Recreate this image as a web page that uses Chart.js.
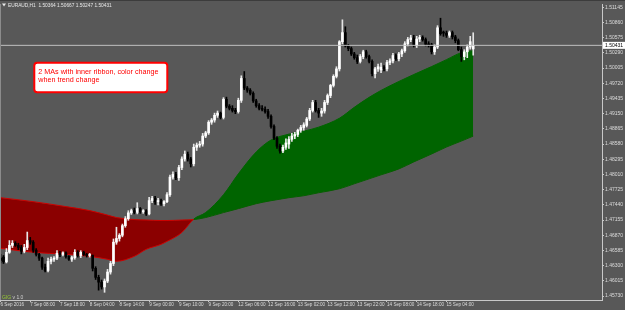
<!DOCTYPE html>
<html>
<head>
<meta charset="utf-8">
<script src="https://cdn.jsdelivr.net/npm/chart.js@4.4.1/dist/chart.umd.min.js"></script>
<style>
  html, body { margin: 0; padding: 0; background: #585858; }
  #wrap { width: 625px; height: 310px; }
</style>
</head>
<body>
<div id="wrap"><canvas id="chart" width="625" height="310"></canvas></div>
<script>
// ── Data ─────────────────────────────────────────────────────────
const symbol = 'EURAUD,H1';
const noteLines = ['2 MAs with inner ribbon, color change', 'when trend change'];

const xTickIdx = [0, 10, 20, 30, 40, 50, 60, 70, 80, 90, 100, 110, 120, 130, 140, 150];
const xTickLabels = ['6 Sep 2016', '7 Sep 08:00', '7 Sep 18:00', '8 Sep 04:00', '8 Sep 14:00', '9 Sep 00:00',
  '9 Sep 10:00', '9 Sep 20:00', '12 Sep 06:00', '12 Sep 16:00', '13 Sep 02:00', '13 Sep 12:00',
  '13 Sep 22:00', '14 Sep 08:00', '14 Sep 18:00', '15 Sep 04:00'];
const yTicks = [1.45730, 1.46015, 1.46300, 1.46585, 1.46870, 1.47155, 1.47440, 1.47725, 1.48010, 1.48295,
  1.48580, 1.48865, 1.49150, 1.49435, 1.49720, 1.50005, 1.50290, 1.50575, 1.50860, 1.51145];

const open = [
  1.4644, 1.4646, 1.4637, 1.4655, 1.4668, 1.4672, 1.4668, 1.4664, 1.4657, 1.4664,
  1.4677, 1.4674, 1.4659, 1.4651, 1.4644, 1.4627, 1.4621, 1.4638, 1.4642, 1.4644,
  1.4653, 1.4651, 1.4654, 1.4647, 1.4642, 1.4645, 1.4655, 1.4649, 1.4655, 1.4651,
  1.4649, 1.4649, 1.4625, 1.4608, 1.4599, 1.4590, 1.4601, 1.4618, 1.4634, 1.4674,
  1.4681, 1.4687, 1.4705, 1.4718, 1.4729, 1.4733, 1.4730, 1.4737, 1.4731, 1.4733,
  1.4727, 1.4752, 1.4756, 1.4750, 1.4752, 1.4746, 1.4750, 1.4763, 1.4796, 1.4801,
  1.4795, 1.4814, 1.4830, 1.4839, 1.4830, 1.4821, 1.4852, 1.4856, 1.4858, 1.4873,
  1.4879, 1.4899, 1.4903, 1.4912, 1.4916, 1.4908, 1.4942, 1.4929, 1.4925, 1.4921,
  1.4919, 1.4940, 1.4981, 1.4963, 1.4959, 1.4953, 1.4939, 1.4930, 1.4925, 1.4923,
  1.4919, 1.4910, 1.4891, 1.4869, 1.4854, 1.4845, 1.4852, 1.4858, 1.4867, 1.4873,
  1.4876, 1.4884, 1.4889, 1.4893, 1.4905, 1.4921, 1.4936, 1.4921, 1.4916, 1.4920,
  1.4936, 1.4949, 1.4968, 1.4985, 1.4999, 1.5050, 1.5067, 1.5042, 1.5037, 1.5027,
  1.5020, 1.5013, 1.5022, 1.5031, 1.5022, 1.5013, 1.4990, 1.4999, 1.4997, 1.5002,
  1.4999, 1.5011, 1.5014, 1.5024, 1.5018, 1.5027, 1.5033, 1.5046, 1.5054, 1.5057,
  1.5043, 1.5055, 1.5058, 1.5054, 1.5045, 1.5044, 1.5031, 1.5040, 1.5076, 1.5068,
  1.5066, 1.5062, 1.5067, 1.5059, 1.5052, 1.5035, 1.5022, 1.5031, 1.5040, 1.50364
];
const high = [
  1.4651, 1.4649, 1.4662, 1.4677, 1.4677, 1.4675, 1.4672, 1.4668, 1.4670, 1.4693,
  1.4683, 1.4677, 1.4662, 1.4653, 1.4646, 1.4633, 1.4644, 1.4646, 1.4647, 1.4658,
  1.4657, 1.4656, 1.4656, 1.4649, 1.4648, 1.4660, 1.4658, 1.4658, 1.4657, 1.4653,
  1.4653, 1.4650, 1.4628, 1.4612, 1.4603, 1.4605, 1.4623, 1.4638, 1.4680, 1.4702,
  1.4690, 1.4708, 1.4722, 1.4733, 1.4736, 1.4738, 1.4748, 1.4739, 1.4735, 1.4735,
  1.4758, 1.4760, 1.4760, 1.4756, 1.4755, 1.4752, 1.4767, 1.4800, 1.4806, 1.4805,
  1.4818, 1.4834, 1.4845, 1.4843, 1.4833, 1.4858, 1.4860, 1.4863, 1.4878, 1.4882,
  1.4902, 1.4906, 1.4916, 1.4920, 1.4918, 1.4945, 1.4946, 1.4932, 1.4930, 1.4925,
  1.4944, 1.4986, 1.4994, 1.4966, 1.4962, 1.4956, 1.4942, 1.4934, 1.4930, 1.4928,
  1.4923, 1.4913, 1.4894, 1.4872, 1.4858, 1.4856, 1.4868, 1.4872, 1.4878, 1.4880,
  1.4886, 1.4893, 1.4898, 1.4908, 1.4925, 1.4940, 1.4940, 1.4925, 1.4925, 1.4940,
  1.4952, 1.4970, 1.4988, 1.5003, 1.5052, 1.5091, 1.5078, 1.5045, 1.5040, 1.5030,
  1.5025, 1.5026, 1.5034, 1.5034, 1.5025, 1.5016, 1.5002, 1.5008, 1.5010, 1.5005,
  1.5015, 1.5018, 1.5028, 1.5027, 1.5030, 1.5036, 1.5050, 1.5058, 1.5062, 1.5062,
  1.5060, 1.5062, 1.5061, 1.5057, 1.5050, 1.5047, 1.5044, 1.5080, 1.5094, 1.5070,
  1.5070, 1.5070, 1.5070, 1.5062, 1.5055, 1.5040, 1.5035, 1.5044, 1.5060, 1.50667
];
const low = [
  1.4635, 1.4634, 1.4635, 1.4653, 1.4664, 1.4666, 1.4660, 1.4652, 1.4654, 1.4660,
  1.4670, 1.4655, 1.4648, 1.4640, 1.4623, 1.4618, 1.4618, 1.4633, 1.4638, 1.4641,
  1.4647, 1.4648, 1.4644, 1.4640, 1.4638, 1.4642, 1.4646, 1.4645, 1.4649, 1.4646,
  1.4646, 1.4620, 1.4604, 1.4584, 1.4586, 1.4580, 1.4598, 1.4614, 1.4630, 1.4670,
  1.4676, 1.4684, 1.4702, 1.4715, 1.4726, 1.4727, 1.4727, 1.4728, 1.4728, 1.4724,
  1.4725, 1.4748, 1.4745, 1.4744, 1.4743, 1.4742, 1.4748, 1.4760, 1.4792, 1.4791,
  1.4790, 1.4810, 1.4826, 1.4826, 1.4815, 1.4817, 1.4846, 1.4852, 1.4854, 1.4870,
  1.4876, 1.4895, 1.4899, 1.4908, 1.4905, 1.4905, 1.4926, 1.4922, 1.4918, 1.4915,
  1.4916, 1.4936, 1.4960, 1.4955, 1.4950, 1.4936, 1.4927, 1.4922, 1.4920, 1.4916,
  1.4906, 1.4888, 1.4866, 1.4850, 1.4841, 1.4842, 1.4848, 1.4850, 1.4863, 1.4868,
  1.4872, 1.4880, 1.4884, 1.4890, 1.4902, 1.4918, 1.4918, 1.4908, 1.4910, 1.4916,
  1.4932, 1.4945, 1.4965, 1.4982, 1.4995, 1.5046, 1.5040, 1.5033, 1.5024, 1.5017,
  1.5009, 1.5010, 1.5018, 1.5019, 1.5010, 1.4986, 1.4982, 1.4994, 1.4992, 1.4995,
  1.4995, 1.5007, 1.5010, 1.5015, 1.5014, 1.5022, 1.5030, 1.5042, 1.5050, 1.5040,
  1.5039, 1.5050, 1.5051, 1.5042, 1.5040, 1.5027, 1.5026, 1.5037, 1.5062, 1.5060,
  1.5058, 1.5058, 1.5055, 1.5048, 1.5033, 1.5013, 1.5016, 1.5020, 1.5036, 1.50247
];
const close = [
  1.4640, 1.4637, 1.4655, 1.4668, 1.4672, 1.4668, 1.4664, 1.4657, 1.4664, 1.4677,
  1.4674, 1.4659, 1.4651, 1.4644, 1.4627, 1.4621, 1.4638, 1.4642, 1.4644, 1.4653,
  1.4651, 1.4654, 1.4647, 1.4642, 1.4645, 1.4655, 1.4649, 1.4655, 1.4651, 1.4649,
  1.4651, 1.4625, 1.4608, 1.4599, 1.4590, 1.4601, 1.4618, 1.4634, 1.4674, 1.4681,
  1.4687, 1.4705, 1.4718, 1.4729, 1.4733, 1.4730, 1.4737, 1.4731, 1.4733, 1.4727,
  1.4752, 1.4756, 1.4750, 1.4752, 1.4746, 1.4750, 1.4763, 1.4796, 1.4801, 1.4795,
  1.4814, 1.4830, 1.4839, 1.4830, 1.4821, 1.4852, 1.4856, 1.4858, 1.4873, 1.4879,
  1.4899, 1.4903, 1.4912, 1.4916, 1.4908, 1.4942, 1.4929, 1.4925, 1.4921, 1.4919,
  1.4940, 1.4981, 1.4963, 1.4959, 1.4953, 1.4939, 1.4930, 1.4925, 1.4923, 1.4919,
  1.4910, 1.4891, 1.4869, 1.4854, 1.4845, 1.4852, 1.4860, 1.4867, 1.4873, 1.4876,
  1.4884, 1.4889, 1.4894, 1.4905, 1.4921, 1.4936, 1.4921, 1.4916, 1.4920, 1.4936,
  1.4949, 1.4968, 1.4985, 1.4999, 1.5050, 1.5067, 1.5042, 1.5037, 1.5027, 1.5020,
  1.5013, 1.5022, 1.5031, 1.5022, 1.5013, 1.4990, 1.4999, 1.5003, 1.5002, 1.4999,
  1.5011, 1.5014, 1.5024, 1.5018, 1.5027, 1.5033, 1.5046, 1.5054, 1.5057, 1.5043,
  1.5055, 1.5058, 1.5054, 1.5045, 1.5044, 1.5031, 1.5040, 1.5076, 1.5065, 1.5066,
  1.5062, 1.5067, 1.5059, 1.5052, 1.5035, 1.5022, 1.5031, 1.5040, 1.5050, 1.50431
];

// moving averages, read at these bar indices
const maIdx = [0, 11, 22, 30, 36, 39, 45, 49, 54, 56, 61, 65, 69, 75, 80, 86, 91, 97, 102, 107,
  114, 119, 124, 128, 134, 139, 145, 150, 155, 159];
const maFast = [1.46624, 1.46550, 1.46512, 1.46475, 1.46419, 1.46382, 1.46475, 1.46606, 1.46699, 1.46755,
  1.46922, 1.47174, 1.47295, 1.47630, 1.48021, 1.48431, 1.48655, 1.48766, 1.48822, 1.48897,
  1.49064, 1.49269, 1.49456, 1.49586, 1.49754, 1.49884, 1.50033, 1.50163, 1.50294, 1.50331];
const maSlow = [1.47574, 1.47500, 1.47407, 1.47332, 1.47248, 1.47202, 1.47164, 1.47155, 1.47146, 1.47146,
  1.47155, 1.47164, 1.47202, 1.47295, 1.47369, 1.47462, 1.47518, 1.47574, 1.47611, 1.47667,
  1.47742, 1.47835, 1.47928, 1.48003, 1.48114, 1.48245, 1.48394, 1.48524, 1.48636, 1.48729];

// ── Styles ───────────────────────────────────────────────────────
const BG = '#585858';
const AXIS = '#c8c8c8';
const TEXT = '#dcdcdc';
const GREEN = '#006400';
const RED_FILL = '#8b0000';
const RED_LINE = '#d00000';
const FAMILY = "'Liberation Sans', Arial, sans-serif";
const FONT_Y = { family: FAMILY, size: 5 };
const FONT_X = { family: FAMILY, size: 4.6 };

const last = close.length - 1;
const bars = close.map((_, i) => i);
const isUp = i => close[i] >= open[i];
const trendUp = k => maFast[k] >= maSlow[k];
const toPts = (idx, vals) => idx.map((x, k) => ({ x, y: vals[k] }));
const fmt = v => v.toFixed(5);

// ── Extras drawn on the canvas ───────────────────────────────────
const decor = {
  id: 'decor',
  beforeDraw(chart) {
    const { ctx, width, height } = chart;
    ctx.save();
    ctx.fillStyle = BG;
    ctx.fillRect(0, 0, width, height);
    ctx.restore();
  },
  afterDraw(chart) {
    const { ctx, chartArea: a, scales: { y } } = chart;
    const f = px => `${px}px ${FAMILY}`;
    ctx.save();

    // frame
    ctx.fillStyle = '#3c3c3c';
    ctx.fillRect(0, 0, chart.width, 1);
    ctx.fillStyle = '#8c8c8c';
    ctx.fillRect(0, a.top, 1, a.bottom - a.top);

    // header
    ctx.fillStyle = '#e8e8e8';
    ctx.beginPath();
    ctx.moveTo(2, 3.5); ctx.lineTo(6, 3.5); ctx.lineTo(4, 6.5); ctx.closePath();
    ctx.fill();
    ctx.font = f(4.8);
    ctx.textBaseline = 'alphabetic';
    ctx.fillText(`${symbol}  ${fmt(open[last])} ${fmt(high[last])} ${fmt(low[last])} ${fmt(close[last])}`, 8, 7.2);

    // note box
    ctx.fillStyle = '#ffffff';
    ctx.strokeStyle = '#ff0000';
    ctx.lineWidth = 2;
    ctx.beginPath();
    ctx.roundRect(34.3, 62.7, 133, 29.6, 3);
    ctx.fill();
    ctx.stroke();
    ctx.fillStyle = '#ff0000';
    ctx.font = f(7.2);
    ctx.fillText(noteLines[0], 38.3, 73.6);
    ctx.fillText(noteLines[1], 38.3, 82.2);

    // current price tag
    const py = y.getPixelForValue(close[last]);
    ctx.fillStyle = '#ffffff';
    ctx.fillRect(a.right + 1, py - 3.5, 22, 7);
    ctx.fillStyle = '#000000';
    ctx.font = f(5);
    ctx.textBaseline = 'middle';
    ctx.fillText(fmt(close[last]), a.right + 3, py + 0.3);

    // indicator tag
    ctx.textBaseline = 'alphabetic';
    ctx.fillStyle = '#9acd32';
    ctx.fillText('GIG', 2, 298.5);
    ctx.fillStyle = '#d0d0d0';
    ctx.fillText('v 1.0', 2 + ctx.measureText('GIG ').width, 298.5);
    ctx.restore();
  }
};

// ── Chart ────────────────────────────────────────────────────────
new Chart(document.getElementById('chart'), {
  type: 'bar',
  data: {
    datasets: [
      {
        type: 'line', label: 'MA fast', data: toPts(maIdx, maFast),
        borderColor: RED_LINE, borderWidth: 1, pointRadius: 0, cubicInterpolationMode: 'monotone',
        segment: { borderColor: c => trendUp(c.p0DataIndex) ? GREEN : RED_LINE },
        fill: { target: 1, above: GREEN, below: RED_FILL }, order: 5
      },
      {
        type: 'line', label: 'MA slow', data: toPts(maIdx, maSlow),
        borderColor: RED_LINE, borderWidth: 1, pointRadius: 0, cubicInterpolationMode: 'monotone',
        segment: { borderColor: c => trendUp(c.p0DataIndex) ? GREEN : RED_LINE },
        fill: false, order: 4
      },
      {
        type: 'bar', label: 'wick', data: bars.map(i => ({ x: i, y: [low[i], high[i]] })),
        barThickness: 1, grouped: false, borderWidth: 0,
        backgroundColor: c => isUp(c.dataIndex) ? '#e6e6e6' : '#000000', order: 2
      },
      {
        type: 'bar', label: 'body', data: bars.map(i => ({ x: i, y: [open[i], close[i]] })),
        barThickness: 2, minBarLength: 1, grouped: false, borderWidth: 0,
        backgroundColor: c => isUp(c.dataIndex) ? '#ffffff' : '#000000', order: 1
      },
      {
        type: 'line', label: 'price', data: [{ x: -5, y: close[last] }, { x: 210, y: close[last] }],
        borderColor: '#c0c0c0', borderWidth: 1, pointRadius: 0, fill: false, order: 0
      }
    ]
  },
  options: {
    responsive: false,
    animation: false,
    devicePixelRatio: 1,
    events: [],
    layout: { padding: { top: 2, left: 0, right: 0, bottom: 0 } },
    plugins: { legend: { display: false }, tooltip: { enabled: false } },
    scales: {
      x: {
        type: 'linear', min: -0.168, max: 202.32, offset: false,
        afterBuildTicks: s => { s.ticks = xTickIdx.map(value => ({ value })); },
        afterFit: s => { s.height = 10; },
        grid: { display: true, drawOnChartArea: false, drawTicks: true, tickLength: 2, color: AXIS, offset: false },
        border: { display: true, color: AXIS },
        ticks: { autoSkip: false, maxRotation: 0, align: 'start', padding: 0, color: TEXT, font: FONT_X,
          callback: (v, i) => xTickLabels[i] }
      },
      y: {
        type: 'linear', position: 'right', min: 1.456555, max: 1.512065,
        afterBuildTicks: s => { s.ticks = yTicks.map(value => ({ value })); },
        afterFit: s => { s.width = 23; },
        grid: { display: true, drawOnChartArea: false, drawTicks: true, tickLength: 2, color: AXIS },
        border: { display: true, color: AXIS },
        ticks: { autoSkip: false, padding: 1, color: TEXT, font: FONT_Y, callback: v => fmt(v) }
      }
    }
  },
  plugins: [decor]
});
</script>
</body>
</html>
